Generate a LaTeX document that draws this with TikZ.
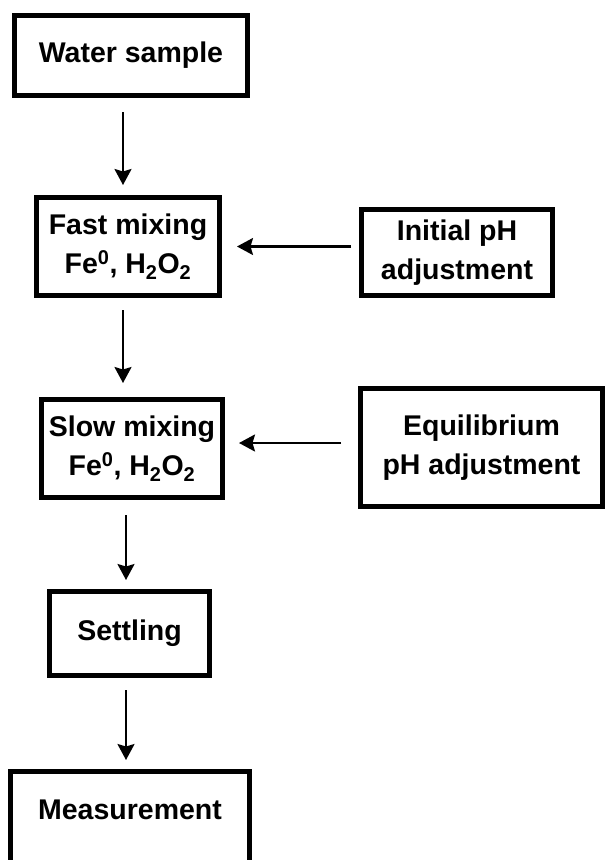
\documentclass[tikz,border=0pt]{standalone}
\usepackage{fontspec}
\setmainfont{Liberation Sans}
\usetikzlibrary{arrows.meta}

\begin{document}
\begin{tikzpicture}[
  x=1pt, y=-1pt,
  block/.style={rectangle, draw, line width=5pt, align=center, inner sep=0pt, outer sep=2.5pt,
    font=\fontsize{28.5}{39}\selectfont\bfseries},
  arr/.style={-{Stealth[length=16pt, width=17pt, inset=2.5pt]}, line width=2.2pt,
    shorten <=12pt, shorten >=10pt}
]
  \useasboundingbox (0,0) rectangle (607,860);

  \node[block, minimum width=233pt, minimum height=80pt] (water) at (131,55.5) {Water sample};
  \node[block, minimum width=183pt, minimum height=98pt] (fast) at (128,246.5)
    {Fast mixing\\Fe\textsuperscript{0}, H\textsubscript{2}O\textsubscript{2}};
  \node[block, minimum width=191pt, minimum height=86pt] (init) at (457,252.5) {Initial pH\\adjustment};
  \node[block, minimum width=181pt, minimum height=98pt] (slow) at (132,448.5)
    {Slow mixing\\Fe\textsuperscript{0}, H\textsubscript{2}O\textsubscript{2}};
  \node[block, minimum width=242pt, minimum height=118pt] (equil) at (481.5,447.5) {Equilibrium\\pH adjustment};
  \node[block, minimum width=160pt, minimum height=84pt] (settle) at (129.5,633.5) {Settling};
  \node[block, anchor=north, minimum width=239pt, text height=47.5pt, text depth=46pt] (measure)
    at (130,769) {Measurement};

  % vertical flow
  \coordinate (upper) at (123,0);
  \coordinate (lower) at (126,0);
  \draw[arr, shorten <=14pt] (water.south -| upper) -- (fast.north -| upper);
  \draw[arr, shorten >=14pt] (fast.south -| upper) -- (slow.north -| upper);
  \draw[arr, shorten <=15pt, shorten >=9pt] (slow.south -| lower) -- (settle.north -| lower);
  \draw[arr, shorten >=9pt] (settle.south -| lower) -- (measure.north -| lower);

  % pH adjustments
  \coordinate (eqin) at ([yshift=4.5pt]equil.west);
  \draw[arr, shorten <=8pt, shorten >=15pt] (init.west |- fast.east) -- (fast.east);
  \draw[arr, shorten <=17pt, shorten >=14pt] (eqin) -- (eqin -| slow.east);
\end{tikzpicture}
\end{document}
